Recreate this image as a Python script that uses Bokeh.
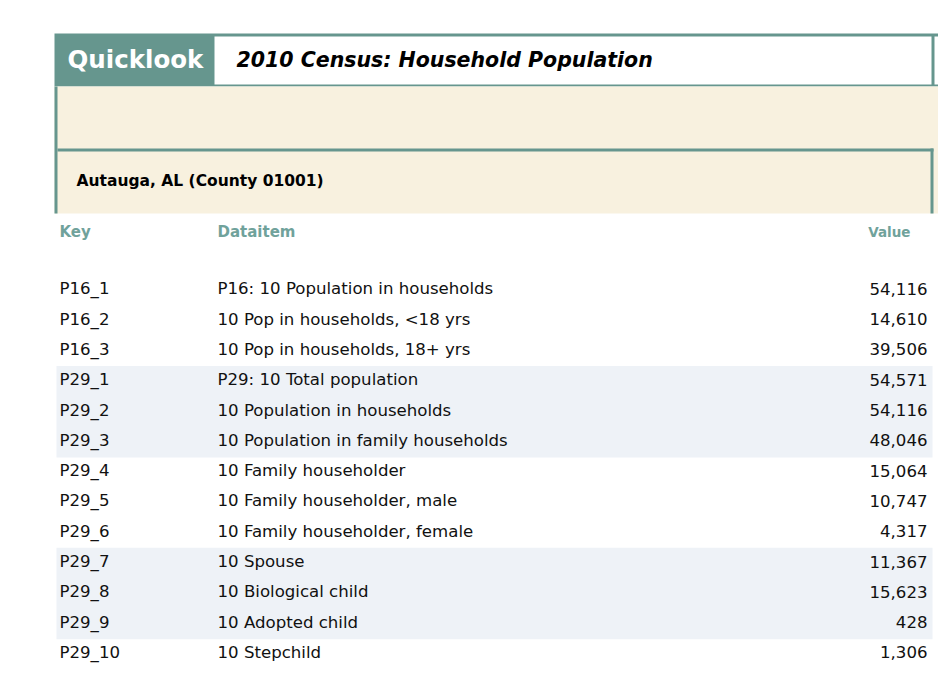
from bokeh.plotting import figure
from bokeh.models import Range1d, ColumnDataSource
from bokeh.core.properties import value
from bokeh.embed import file_html
from bokeh.resources import INLINE

# ---- data ----
title_tag = "Quicklook"
title = "2010 Census: Household Population"
place = "Autauga, AL (County 01001)"
headers = ["Key", "Dataitem", "Value"]
keys = ["P16_1", "P16_2", "P16_3", "P29_1", "P29_2", "P29_3", "P29_4",
        "P29_5", "P29_6", "P29_7", "P29_8", "P29_9", "P29_10", "P29_11"]
items = ["P16: 10 Population in households",
         "10 Pop in households, <18 yrs",
         "10 Pop in households, 18+ yrs",
         "P29: 10 Total population",
         "10 Population in households",
         "10 Population in family households",
         "10 Family householder",
         "10 Family householder, male",
         "10 Family householder, female",
         "10 Spouse",
         "10 Biological child",
         "10 Adopted child",
         "10 Stepchild",
         "10 Grandchild"]
values = [54116, 14610, 39506, 54571, 54116, 48046, 15064,
          10747, 4317, 11367, 15623, 428, 1306, 1730]

# ---- style ----
TEAL = "#66968e"
TEAL_TXT = "#70a29b"
BEIGE = "#f8f1df"
BAND = "#eef2f7"
FONT = "DejaVu Sans"

W, H = 938, 675
p = figure(width=W, height=H, x_range=Range1d(0, W), y_range=Range1d(H, 0),
           output_backend="svg", toolbar_location=None, min_border=0)
p.axis.visible = False
p.grid.visible = False
p.outline_line_color = None
p.background_fill_color = "white"
p.border_fill_color = "white"

def box(x0, x1, y0, y1, color):
    p.quad(left=[x0], right=[x1], top=[y0], bottom=[y1], fill_color=color, line_color=None)

# header frame
box(54, 938, 33, 86, TEAL)
box(214, 931, 36, 84, "white")
box(934, 938, 36, 84, "white")
box(54, 938, 86, 213, BEIGE)
box(54, 57, 86, 213, TEAL)
box(57, 933, 148, 151, TEAL)
box(930, 933, 148, 213, TEAL)

p.text(x=[67], y=[59], text=[title_tag], text_color="white", text_font=value(FONT),
       text_font_style="bold", text_font_size="24.5px", text_baseline="middle")
p.text(x=[236], y=[59], text=[title], text_color="black", text_font=value(FONT),
       text_font_style="bold italic", text_font_size="20.5px", text_baseline="middle")
p.text(x=[76], y=[180], text=[place], text_color="black", text_font=value(FONT),
       text_font_style="bold", text_font_size="15.5px", text_baseline="middle")

# column headers
p.text(x=[59, 217], y=[231, 231], text=headers[:2], text_color=TEAL_TXT, text_font=value(FONT),
       text_font_style="bold", text_font_size="15px", text_baseline="middle")
p.text(x=[910], y=[231], text=[headers[2]], text_color=TEAL_TXT, text_font=value(FONT),
       text_font_style="bold", text_font_size="13.5px", text_baseline="middle", text_align="right")

# rows
ROW0, ROWH = 288.3, 30.3
ys = [ROW0 + i * ROWH for i in range(len(keys))]
band_top, band_bot = [], []
for g in range(0, len(keys), 3):
    if (g // 3) % 2 == 1:
        band_top.append(ys[g] - 13.8)
        band_bot.append(ys[min(g + 2, len(keys) - 1)] + 17.1)
p.quad(left=56, right=932, top=band_top, bottom=band_bot, fill_color=BAND, line_color=None)

src = ColumnDataSource(dict(y=ys, key=keys, item=items,
                            val=[f"{v:,}" for v in values]))
common = dict(y="y", source=src, text_color="#111111", text_font=value(FONT),
              text_font_size="16.6px", text_baseline="middle")
p.text(x=59, text="key", **common)
p.text(x=217, text="item", **common)
p.text(x=927, text="val", text_align="right", **common)

open("out.html", "w").write(file_html(p, INLINE))
